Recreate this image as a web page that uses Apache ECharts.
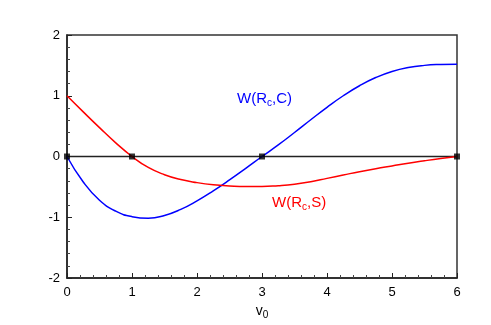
<!DOCTYPE html>
<html>
<head>
<meta charset="utf-8">
<script src="https://cdn.jsdelivr.net/npm/echarts@6/dist/echarts.min.js"></script>
<style>
  html, body { margin: 0; padding: 0; background: #fff; }
  #chart { width: 491px; height: 325px; }
</style>
</head>
<body>
<div id="chart"></div>
<script>
// v0 grid and the two curves
var vVals = [0, 0.25, 0.5, 0.75, 1, 1.25, 1.5, 1.75, 2, 2.25, 2.5, 2.75, 3,
             3.25, 3.5, 3.75, 4, 4.25, 4.5, 4.75, 5, 5.25, 5.5, 5.75, 6];
var wcVals = [0, -0.42, -0.72, -0.90, -0.99, -1.015, -0.97, -0.87, -0.73, -0.565, -0.385, -0.195, 0,
              0.19, 0.395, 0.605, 0.81, 1.0, 1.165, 1.30, 1.40, 1.465, 1.50, 1.515, 1.52];
var wsVals = [1.0, 0.735, 0.475, 0.225, 0, -0.18, -0.30, -0.38, -0.43, -0.465, -0.485, -0.495, -0.495,
              -0.48, -0.455, -0.415, -0.36, -0.305, -0.25, -0.20, -0.155, -0.11, -0.07, -0.033, 0];
var zeroX = [0, 6];
var markX = [0, 1, 3, 6];
var xTicks = [0, 1, 2, 3, 4, 5, 6];
var yTicks = [-2, -1, 0, 1, 2];

function pairs(xs, ys) {
    return xs.map(function (x, i) { return [x, ys[i]]; });
}

var chart = echarts.init(document.getElementById('chart'));
var font = 'Liberation Sans, Arial, sans-serif';

chart.setOption({
    animation: false,
    grid: {
        left: 67, right: 34, top: 35, bottom: 46,
        show: true, borderColor: '#333', borderWidth: 1.5
    },
    xAxis: {
        type: 'value',
        min: xTicks[0], max: xTicks[xTicks.length - 1], interval: 1,
        name: '{v|v}{s|0}',
        nameLocation: 'middle',
        nameGap: 24,
        nameTextStyle: {
            rich: {
                v: { fontSize: 14, color: '#000', fontFamily: font },
                s: { fontSize: 10, color: '#000', fontFamily: font, padding: [8, 0, 0, 0] }
            }
        },
        axisLine: { show: true, onZero: false, lineStyle: { color: '#222', width: 1.5 } },
        axisTick: { show: true, inside: true, length: 5, lineStyle: { color: '#222' } },
        minorTick: { show: true, splitNumber: 5, length: 3, lineStyle: { color: '#444' } },
        splitLine: { show: false },
        axisLabel: { color: '#000', fontSize: 13, fontFamily: font, margin: 8 }
    },
    yAxis: {
        type: 'value',
        min: yTicks[0], max: yTicks[yTicks.length - 1], interval: 1,
        axisLine: { show: true, onZero: false, lineStyle: { color: '#222', width: 1.5 } },
        axisTick: { show: true, inside: true, length: 5, lineStyle: { color: '#222' } },
        minorTick: { show: true, splitNumber: 5, length: 3, lineStyle: { color: '#444' } },
        splitLine: { show: false },
        axisLabel: { color: '#000', fontSize: 13, fontFamily: font, margin: 7 }
    },
    series: [
        {
            type: 'line',
            data: zeroX.map(function (x) { return [x, 0]; }),
            symbol: 'none',
            lineStyle: { color: '#222', width: 1.5 },
            z: 1
        },
        {
            name: 'W(Rc,C)',
            type: 'line',
            data: pairs(vVals, wcVals),
            smooth: 0.5,
            symbol: 'none',
            lineStyle: { color: '#0000ff', width: 1.5 },
            z: 2
        },
        {
            name: 'W(Rc,S)',
            type: 'line',
            data: pairs(vVals, wsVals),
            smooth: 0.5,
            symbol: 'none',
            lineStyle: { color: '#ff0000', width: 1.5 },
            z: 2
        },
        {
            type: 'scatter',
            data: markX.map(function (x) { return [x, 0]; }),
            symbol: 'rect',
            symbolSize: 6,
            itemStyle: { color: '#000' },
            z: 3
        }
    ],
    graphic: [
        {
            type: 'text', left: 237, top: 91,
            style: {
                text: '{a|W(R}{s|c}{a|,C)}',
                rich: {
                    a: { fontSize: 15, fill: '#0000ff', fontFamily: font },
                    s: { fontSize: 10, fill: '#0000ff', fontFamily: font, padding: [9, 0, 0, 0] }
                }
            }
        },
        {
            type: 'text', left: 272, top: 195,
            style: {
                text: '{a|W(R}{s|c}{a|,S)}',
                rich: {
                    a: { fontSize: 15, fill: '#ff0000', fontFamily: font },
                    s: { fontSize: 10, fill: '#ff0000', fontFamily: font, padding: [9, 0, 0, 0] }
                }
            }
        }
    ]
});
</script>
</body>
</html>
